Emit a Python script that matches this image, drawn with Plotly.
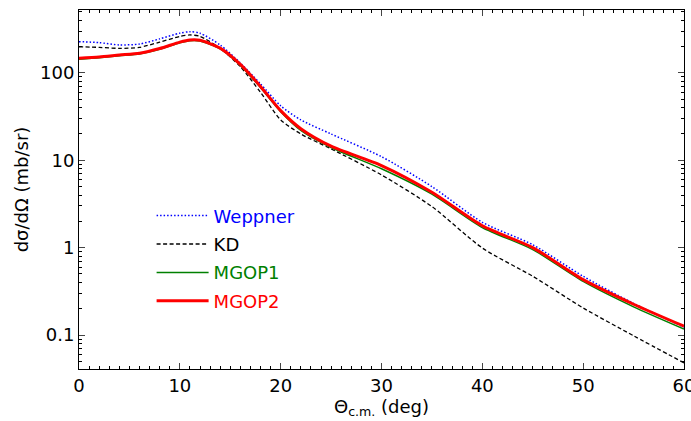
import plotly.graph_objects as go

theta = [0, 2, 4, 6, 8, 10, 11, 12, 14, 16, 18, 20, 22, 25, 30, 35, 40, 45, 50, 55, 60]
weppner = [228, 222, 209, 214, 245, 285, 296, 285, 209, 130, 75, 42, 29, 20, 11, 5.0, 1.95, 1.08, 0.47, 0.23, 0.123]
kd = [199, 196, 191, 196, 225, 262, 272, 262, 191, 118, 60, 29, 20, 13.5, 6.8, 2.95, 0.99, 0.47, 0.204, 0.098, 0.048]
mgop1 = [143, 149, 157, 165, 186, 221, 234, 232, 188, 122, 68, 36, 22, 14.0, 8.0, 4.1, 1.70, 0.95, 0.41, 0.21, 0.117]
mgop2 = [147, 152, 160, 168, 190, 225, 238, 236, 192, 125, 70, 37, 23, 14.5, 8.7, 4.3, 1.78, 1.0, 0.43, 0.225, 0.126]

ytickvals = [0.1, 1, 10, 100]
yticktext = ["0.1", "1", "10", "100"]
yminor = [m * 10.0 ** e for e in range(-2, 3) for m in range(2, 10)]

series = [
    ("Weppner", weppner, "blue", 1.5, "1.5px,2px"),
    ("KD", kd, "black", 1.3, "4px,2.5px"),
    ("MGOP1", mgop1, "green", 1.5, "solid"),
    ("MGOP2", mgop2, "red", 3, "solid"),
]

fig = go.Figure()
for name, vals, col, w, dash in series:
    fig.add_trace(go.Scatter(
        x=theta, y=vals, mode="lines", line_shape="spline",
        line_smoothing=0.7,
        name=f"<span style='color:{col}'>{name}</span>",
        legendgroup=name,
        line=dict(color=col, width=w, dash=dash),
    ))

font = "DejaVu Sans, sans-serif"
fig.update_layout(
    width=691, height=421,
    margin=dict(l=79, r=7, t=10, b=52),
    paper_bgcolor="white", plot_bgcolor="white",
    font=dict(family=font, size=18, color="black"),
    showlegend=True,
    legend=dict(
        x=0.12, y=0.478, xanchor="left", yanchor="top",
        bgcolor="rgba(0,0,0,0)", font=dict(size=18),
        tracegroupgap=2, traceorder="grouped", itemwidth=52,
    ),
    xaxis=dict(
        range=[0, 60], dtick=10, tick0=0, automargin=False,
        ticks="inside", ticklen=6, tickwidth=1, mirror="allticks",
        showline=True, linecolor="black", linewidth=1,
        showgrid=False, zeroline=False, ticklabeloverflow="allow",
        minor=dict(dtick=1, ticks="inside", ticklen=3, tickcolor="black"),
        title=dict(text="Θ<sub>c.m.</sub> (deg)", font=dict(size=18), standoff=2),
        tickfont=dict(size=18),
    ),
    yaxis=dict(
        type="log", range=[-1.389, 2.72], automargin=False,
        tickvals=ytickvals, ticktext=yticktext,
        ticks="inside", ticklen=6, tickwidth=1, mirror="allticks",
        showline=True, linecolor="black", linewidth=1,
        showgrid=False, zeroline=False,
        minor=dict(tickvals=yminor, ticks="inside", ticklen=3, tickcolor="black", showgrid=False),
        title=dict(text="dσ/dΩ (mb/sr)", font=dict(size=18), standoff=6),
        tickfont=dict(size=18),
    ),
)

fig.write_html(
    "out.html",
    config={"displayModeBar": False},
    post_script="document.body.style.margin='0';document.body.style.overflow='hidden';",
)
